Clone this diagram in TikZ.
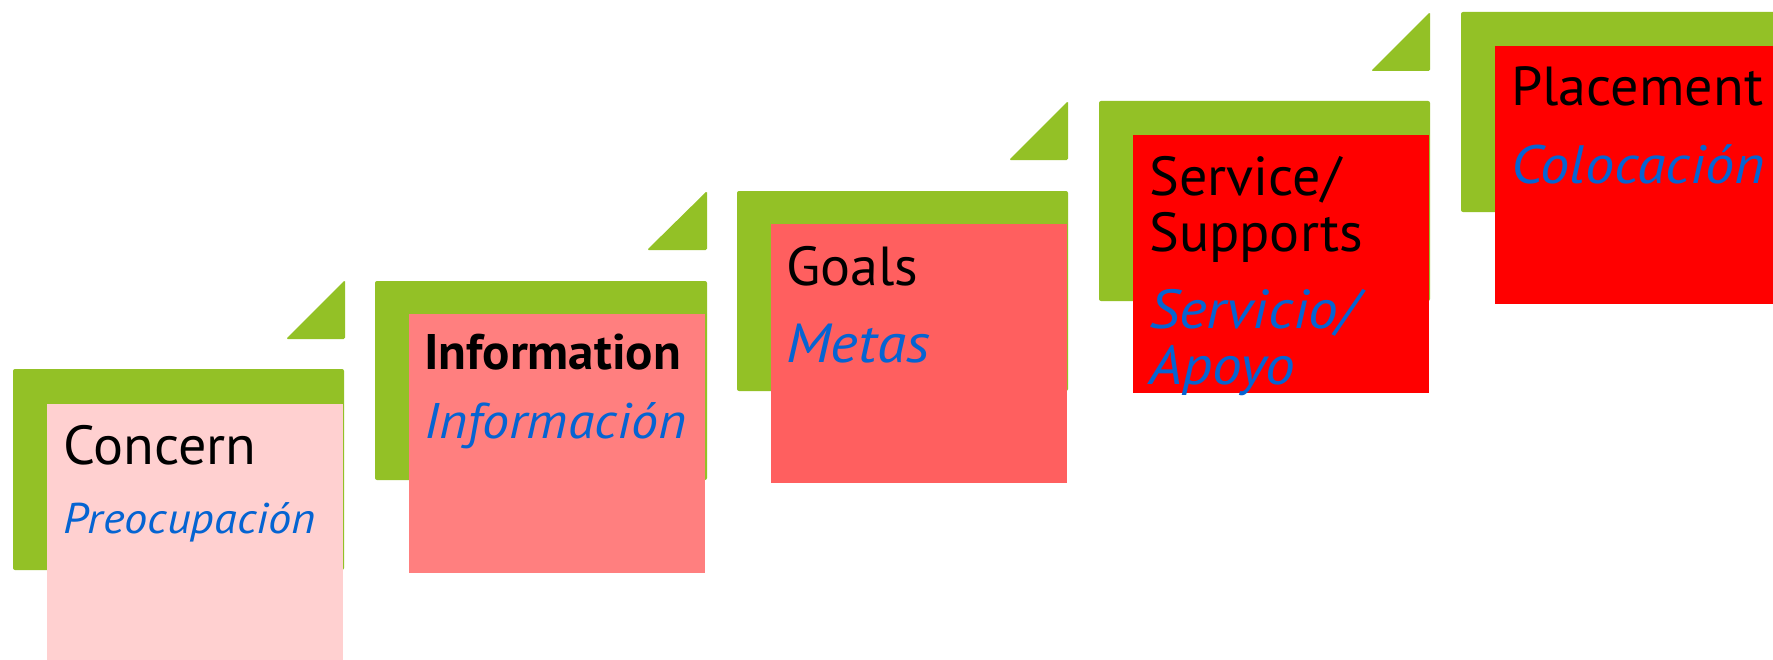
\documentclass[tikz,border=0pt]{standalone}
\usepackage{fontspec}
\setmainfont{PT Sans}[UprightFeatures={FakeStretch=1.02},BoldFeatures={FakeStretch=1.02},ItalicFeatures={FakeStretch=1.08}]
\definecolor{stepgreen}{RGB}{147,193,38}
\definecolor{boxA}{RGB}{255,208,208}
\definecolor{boxB}{RGB}{255,127,127}
\definecolor{boxC}{RGB}{255,95,95}
\definecolor{boxD}{RGB}{255,0,0}
\definecolor{txtblue}{RGB}{5,100,210}
\tikzset{
  lshape/.style={fill=stepgreen, rounded corners=2bp},
  tri/.style={fill=stepgreen, rounded corners=1.5bp},
  en/.style={anchor=base west, inner sep=0pt, text=black},
  es/.style={anchor=base west, inner sep=0pt, text=txtblue, font=\itshape},
}
\newcommand{\fs}[1]{\fontsize{#1bp}{#1bp}\selectfont}
\begin{document}
\begin{tikzpicture}[x=1bp,y=-1bp]
\useasboundingbox (0,0) rectangle (1773,660);
\clip (0,0) rectangle (1773,660);
\fill[white] (0,0) rectangle (1773,660);
% step 1
\fill[lshape] (13,369) rectangle (344,570);
\fill[tri] (286,339) -- (345,339) -- (345,280) -- cycle;
\fill[boxA] (47,404) rectangle (343,663);
\node[en, font=\fs{55}] (t1a) at (63,464) {Concern};
\node[es, font=\fs{43}\itshape] (t1b) at (63,533) {Preocupación};
% step 2
\fill[lshape] (375,281) rectangle (707,480);
\fill[tri] (647,250) -- (707,250) -- (707,191) -- cycle;
\fill[boxB] (409,314) rectangle (705,573);
\node[en, font=\fs{50}\bfseries] (t2a) at (424,369) {Information};
\node[es, font=\fs{50}\itshape] (t2b) at (424,438) {Información};
% step 3
\fill[lshape] (737,191) rectangle (1068,391);
\fill[tri] (1009,160) -- (1068,160) -- (1068,101) -- cycle;
\fill[boxC] (771,224) rectangle (1067,483);
\node[en, font=\fs{55}] (t3a) at (786,285) {Goals};
\node[es, font=\fs{55}\itshape] (t3b) at (786,362) {Metas};
% step 4
\fill[lshape] (1099,101) rectangle (1430,301);
\fill[tri] (1371,71) -- (1430,71) -- (1430,12) -- cycle;
\fill[boxD] (1133,135) rectangle (1429,393);
\node[en, font=\fs{55}] (t4a) at (1149,195) {Service/};
\node[en, font=\fs{55}] (t4b) at (1149,251) {Supports};
\node[es, font=\fs{55}\itshape] (t4c) at (1149,328) {Servicio/};
\node[es, font=\fs{55}\itshape] (t4d) at (1149,384) {Apoyo};
% step 5
\fill[lshape] (1461,12) rectangle (1800,212);
\fill[boxD] (1495,46) rectangle (1800,304);
\node[en, font=\fs{55}] (t5a) at (1511,106) {Placement};
\node[es, font=\fs{54}\itshape] (t5b) at (1511,183) {Colocación};
\end{tikzpicture}
\end{document}
